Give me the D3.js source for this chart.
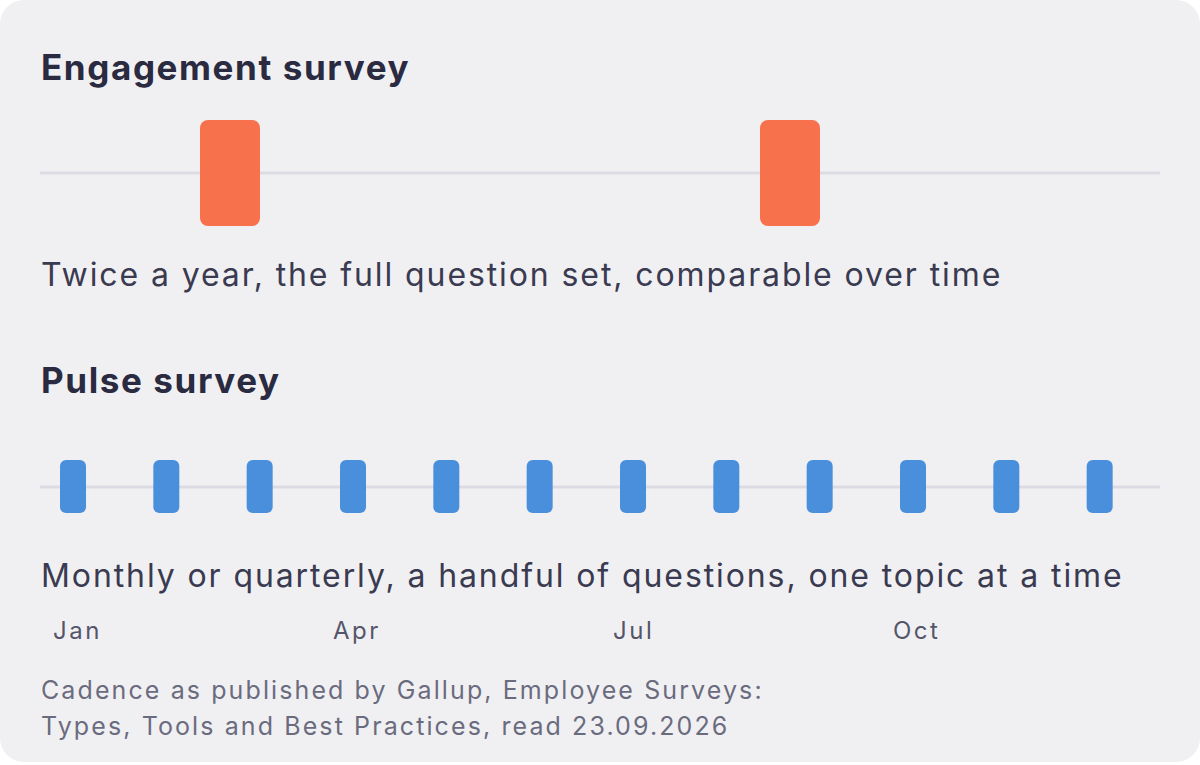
<!DOCTYPE html>
<html><head><meta charset="utf-8">
<script src="https://cdn.jsdelivr.net/npm/d3@7"></script>
<style>body{margin:0;background:#fff;}svg{display:block;font-family:Inter,sans-serif;}</style>
</head><body><svg id="c" width="1200" height="765"></svg>
<script>
const engagementMonths = [1.5, 7.5];
const pulseMonths = [0,1,2,3,4,5,6,7,8,9,10,11];
const tickMonths = [0,3,6,9];
const tickLabels = ["Jan","Apr","Jul","Oct"];
const titles = ["Engagement survey","Pulse survey"];
const captions = ["Twice a year, the full question set, comparable over time","Monthly or quarterly, a handful of questions, one topic at a time"];
const footer = ["Cadence as published by Gallup, Employee Surveys:","Types, Tools and Best Practices, read 23.09.2026"];

const svg = d3.select("#c");
svg.append("rect").attr("x",0).attr("y",0).attr("width",1200).attr("height",762).attr("rx",24).attr("fill","#f0f0f3");
const x = d3.scaleLinear().domain([0,12]).range([60,1180]);
const dark="#2a2a40", text="#3a3a50";

function title(t,y){svg.append("text").attr("x",41).attr("y",y).attr("font-size",35).attr("font-weight",700).attr("letter-spacing",1.6).attr("fill",dark).text(t);}
function cap(t,y){svg.append("text").attr("x",41).attr("y",y).attr("font-size",32).attr("letter-spacing",1.9).attr("fill",text).text(t);}
function line(y){svg.append("line").attr("x1",40).attr("x2",1160).attr("y1",y).attr("y2",y).attr("stroke","#dcdbe3").attr("stroke-width",3);}

title(titles[0],80);
line(173);
svg.selectAll(".eng").data(engagementMonths).join("rect").attr("x",d=>x(d)).attr("y",120).attr("width",60).attr("height",106).attr("rx",8).attr("fill","#f7714c");
cap(captions[0],286);

title(titles[1],393);
line(487);
svg.selectAll(".pul").data(pulseMonths).join("rect").attr("x",d=>x(d)).attr("y",460).attr("width",26).attr("height",53).attr("rx",6).attr("fill","#4a8fdb");
cap(captions[1],587);

svg.selectAll(".tick").data(tickMonths).join("text").attr("x",d=>x(d)-7).attr("y",639).attr("font-size",24).attr("letter-spacing",2.5).attr("fill","#55556a").text((d,i)=>tickLabels[i]);

footer.forEach((t,i)=>svg.append("text").attr("x",41).attr("y",699+i*36).attr("font-size",25).attr("letter-spacing",2.1).attr("fill","#6b6b7e").text(t));
</script></body></html>
